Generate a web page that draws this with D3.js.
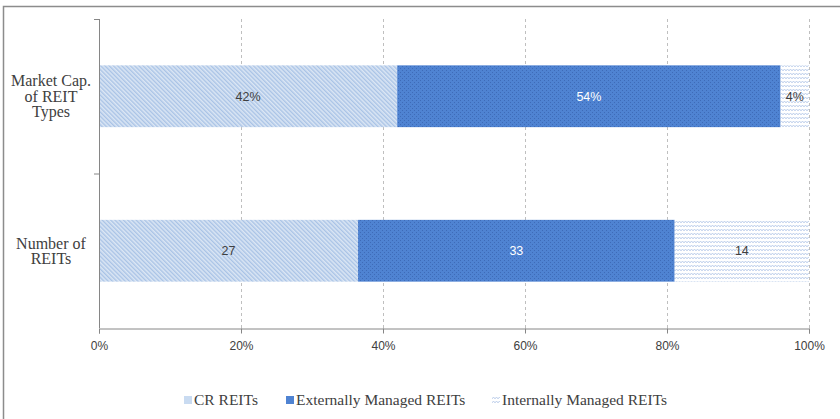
<!DOCTYPE html>
<html>
<head>
<meta charset="utf-8">
<script src="https://cdn.jsdelivr.net/npm/d3@7"></script>
<style>
  body { margin: 0; background: #fff; }
  svg { display: block; }
</style>
</head>
<body>
<div id="chart"></div>
<script>
// chart data
let categories = ["Market Cap. of REIT Types", "Number of REITs"];
let categoryLines = [["Market Cap.", "of REIT", "Types"], ["Number of", "REITs"]];
let seriesNames = ["CR REITs", "Externally Managed REITs", "Internally Managed REITs"];
let marketCapValues = [42, 54, 4];
let numberValues = [27, 33, 14];
let marketCapLabels = ["42%", "54%", "4%"];
let numberLabels = ["27", "33", "14"];
let tickValues = [0, 0.2, 0.4, 0.6, 0.8, 1];

let width = 840, height = 419;
let margin = {left: 99, right: 31, top: 19, bottom: 91};

let svg = d3.select("#chart")
    .append("svg")
        .attr("width", width)
        .attr("height", height);

// patterns for the three series
let defs = svg.append("defs");

let p1 = defs.append("pattern")
    .attr("id", "pat-cr")
    .attr("patternUnits", "userSpaceOnUse")
    .attr("width", 3).attr("height", 3)
    .attr("patternTransform", "rotate(-45)");
p1.append("rect").attr("width", 3).attr("height", 3).attr("fill", "#dbe6f4");
p1.append("rect").attr("width", 1.4).attr("height", 3).attr("fill", "#a9c3e6");

let p2 = defs.append("pattern")
    .attr("id", "pat-ext")
    .attr("patternUnits", "userSpaceOnUse")
    .attr("width", 4).attr("height", 4);
p2.append("rect").attr("width", 4).attr("height", 4).attr("fill", "#4f83d2");
p2.append("rect").attr("x", 0).attr("y", 0).attr("width", 1).attr("height", 1).attr("fill", "#3e6bb8");
p2.append("rect").attr("x", 2).attr("y", 2).attr("width", 1).attr("height", 1).attr("fill", "#3e6bb8");

let p3 = defs.append("pattern")
    .attr("id", "pat-int")
    .attr("patternUnits", "userSpaceOnUse")
    .attr("width", 6).attr("height", 4);
p3.append("rect").attr("width", 6).attr("height", 4).attr("fill", "#ffffff");
p3.append("path").attr("d", "M0,2.5 L1.5,1.5 L3,2.5 L4.5,1.5 L6,2.5")
    .attr("fill", "none").attr("stroke", "#b3c7e8").attr("stroke-width", 1);

let fills = ["url(#pat-cr)", "url(#pat-ext)", "url(#pat-int)"];
let legendFills = ["#c9dbf1", "#4f83d2", "#dce6f4"];
let labelColors = ["#404040", "#ffffff", "#404040"];

// outer frame
svg.append("rect")
    .attr("x", 3.5).attr("y", 6.5)
    .attr("width", width + 10).attr("height", height + 10)
    .attr("fill", "none").attr("stroke", "#8c8c8c").attr("stroke-width", 1.5);

let x = d3.scaleLinear()
    .domain([0, 1])
    .range([margin.left, width - margin.right]);

let y = d3.scaleBand()
    .domain(categories)
    .range([margin.top, height - margin.bottom])
    .paddingInner(0.6)
    .paddingOuter(0.3);

// gridlines
svg.append("g")
    .selectAll("line")
    .data(tickValues.slice(1))
    .enter()
    .append("line")
        .attr("x1", d => x(d) + 0.5).attr("x2", d => x(d) + 0.5)
        .attr("y1", margin.top).attr("y2", height - margin.bottom)
        .attr("stroke", "#bfbfbf")
        .attr("stroke-dasharray", "3,3");

// stacked, normalised rows
let rows = [marketCapValues, numberValues];
let rowLabels = [marketCapLabels, numberLabels];

rows.forEach(function(vals, r) {
    let total = d3.sum(vals);
    let start = 0;
    let g = svg.append("g");
    vals.forEach(function(v, i) {
        let x0 = start / total, x1 = (start + v) / total;
        g.append("rect")
            .attr("x", x(x0))
            .attr("y", y(categories[r]))
            .attr("width", x(x1) - x(x0))
            .attr("height", y.bandwidth())
            .attr("fill", fills[i]);
        g.append("text")
            .attr("x", (x(x0) + x(x1)) / 2)
            .attr("y", y(categories[r]) + y.bandwidth() / 2)
            .attr("dy", "0.35em")
            .attr("text-anchor", "middle")
            .style("font-family", "'Liberation Sans', Arial, sans-serif")
            .style("font-size", "12.5px")
            .attr("fill", labelColors[i])
            .text(rowLabels[r][i]);
        start += v;
    });
});

// x axis
let xAxis = svg.append("g")
    .attr("transform", `translate(0, ${height - margin.bottom + 0.5})`)
    .call(d3.axisBottom(x).tickValues(tickValues).tickFormat(d3.format(".0%")).tickSize(5));
xAxis.select(".domain").attr("stroke", "#868686");
xAxis.selectAll(".tick line").attr("stroke", "#868686");
xAxis.selectAll(".tick text")
    .attr("dy", "1.1em")
    .attr("fill", "#404040")
    .style("font-family", "'Liberation Sans', Arial, sans-serif")
    .style("font-size", "12px");

// y axis line and category separators
let yAxis = svg.append("g");
yAxis.append("line")
    .attr("x1", margin.left + 0.5).attr("x2", margin.left + 0.5)
    .attr("y1", margin.top).attr("y2", height - margin.bottom)
    .attr("stroke", "#868686");
[margin.top, (margin.top + height - margin.bottom) / 2].forEach(function(t) {
    yAxis.append("line")
        .attr("x1", margin.left - 5).attr("x2", margin.left)
        .attr("y1", t + 0.5).attr("y2", t + 0.5)
        .attr("stroke", "#868686");
});

// category labels
categories.forEach(function(c, r) {
    let lines = categoryLines[r];
    let cy = y(c) + y.bandwidth() / 2;
    let t = svg.append("text")
        .attr("text-anchor", "middle")
        .attr("fill", "#404040")
        .style("font-family", "'Liberation Serif', 'Times New Roman', serif")
        .style("font-size", "16px");
    lines.forEach(function(l, i) {
        t.append("tspan")
            .attr("x", 51)
            .attr("y", cy + (i - (lines.length - 1) / 2) * 15.5)
            .attr("dy", "0.35em")
            .text(l);
    });
});

// legend
let legendX = [184, 286, 492];
let legend = svg.append("g").attr("transform", "translate(0, 400)");
seriesNames.forEach(function(s, i) {
    legend.append("rect")
        .attr("x", legendX[i]).attr("y", -4)
        .attr("width", 8).attr("height", 8)
        .attr("fill", i === 2 ? "url(#pat-int)" : legendFills[i]);
    legend.append("text")
        .attr("x", legendX[i] + 10)
        .attr("y", 0)
        .attr("dy", "0.35em")
        .attr("fill", "#404040")
        .style("font-family", "'Liberation Serif', 'Times New Roman', serif")
        .style("font-size", "15.5px")
        .text(s);
});
</script>
</body>
</html>
